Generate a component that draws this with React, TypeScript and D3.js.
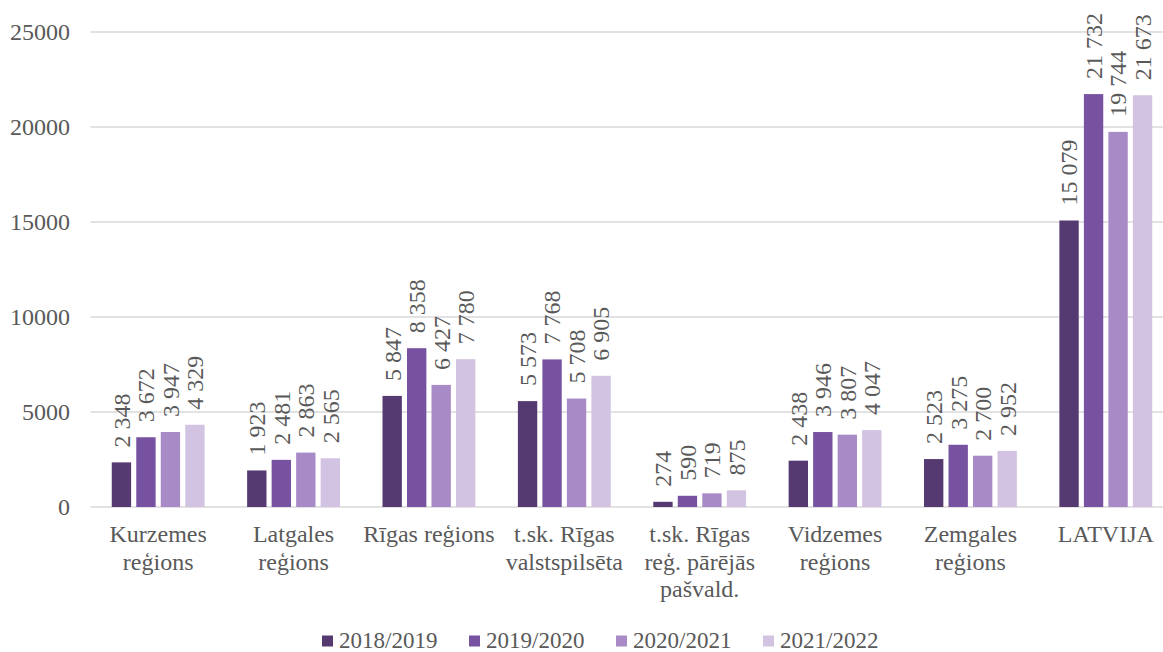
import React from "react";
import * as d3 from "d3";

const categories: string[][] = [
  ["Kurzemes", "reģions"],
  ["Latgales", "reģions"],
  ["Rīgas reģions"],
  ["t.sk. Rīgas", "valstspilsēta"],
  ["t.sk. Rīgas", "reģ. pārējās", "pašvald."],
  ["Vidzemes", "reģions"],
  ["Zemgales", "reģions"],
  ["LATVIJA"],
];
const series = ["2018/2019", "2019/2020", "2020/2021", "2021/2022"];
const colors = ["#553a71", "#7752a1", "#a88ac6", "#d2c3e3"];
const v2018 = [2348, 1923, 5847, 5573, 274, 2438, 2523, 15079];
const v2019 = [3672, 2481, 8358, 7768, 590, 3946, 3275, 21732];
const v2020 = [3947, 2863, 6427, 5708, 719, 3807, 2700, 19744];
const v2021 = [4329, 2565, 7780, 6905, 875, 4047, 2952, 21673];
const values = [v2018, v2019, v2020, v2021];
const yTicks = [0, 5000, 10000, 15000, 20000, 25000];

const W = 1163;
const H = 652;
const FONT = "'Liberation Serif', 'Times New Roman', serif";
const TXT = "#595959";

const fmt = (v: number) => {
  const s = String(v);
  return s.length > 3 ? s.slice(0, s.length - 3) + " " + s.slice(-3) : s;
};

export default function App() {
  const catKeys = categories.map((c) => c.join(" "));
  const x = d3.scaleBand<string>().domain(catKeys).range([90.5, 1173.5]).padding(0);
  const inner = d3
    .scaleBand<string>()
    .domain(series)
    .range([-49, 49])
    .paddingInner(0.21)
    .paddingOuter(0.105);
  const y = d3.scaleLinear().domain([0, 25000]).range([507, 32]);

  return (
    <svg
      width={W}
      height={H}
      style={{ position: "absolute", left: 0, top: 0, background: "#fff", fontFamily: FONT }}
    >
      <rect x={0} y={0} width={W} height={H} fill="#fff" />
      {yTicks.map((t) => (
        <g key={t}>
          <line x1={90.5} x2={1173.5} y1={y(t)} y2={y(t)} stroke="#d9d9d9" strokeWidth={1.5} />
          <text x={70} y={y(t)} dy="0.35em" textAnchor="end" fontSize={24} fill={TXT}>
            {t}
          </text>
        </g>
      ))}
      {categories.map((c, ci) => {
        const cx = (x(catKeys[ci]) as number) + x.bandwidth() / 2;
        return (
          <g key={ci}>
            {series.map((s, si) => {
              const v = values[si][ci];
              const bx = cx + (inner(s) as number);
              const bw = inner.bandwidth();
              const lx = bx + bw / 2;
              const ly = y(v) - 15;
              return (
                <g key={s}>
                  <rect x={bx} y={y(v)} width={bw} height={y(0) - y(v)} fill={colors[si]} />
                  <text
                    transform={`translate(${lx},${ly}) rotate(-90)`}
                    dy="0.35em"
                    textAnchor="start"
                    fontSize={24}
                    fill={TXT}
                  >
                    {fmt(v)}
                  </text>
                </g>
              );
            })}
            {c.map((line, li) => (
              <text key={li} x={cx} y={542 + li * 27.5} textAnchor="middle" fontSize={24} fill={TXT}>
                {line}
              </text>
            ))}
          </g>
        );
      })}
      {series.map((s, si) => {
        const lx = 322 + si * 147;
        return (
          <g key={s}>
            <rect x={lx} y={635.5} width={11} height={11} fill={colors[si]} />
            <text x={lx + 17} y={648} fontSize={23} fill={TXT}>
              {s}
            </text>
          </g>
        );
      })}
    </svg>
  );
}
